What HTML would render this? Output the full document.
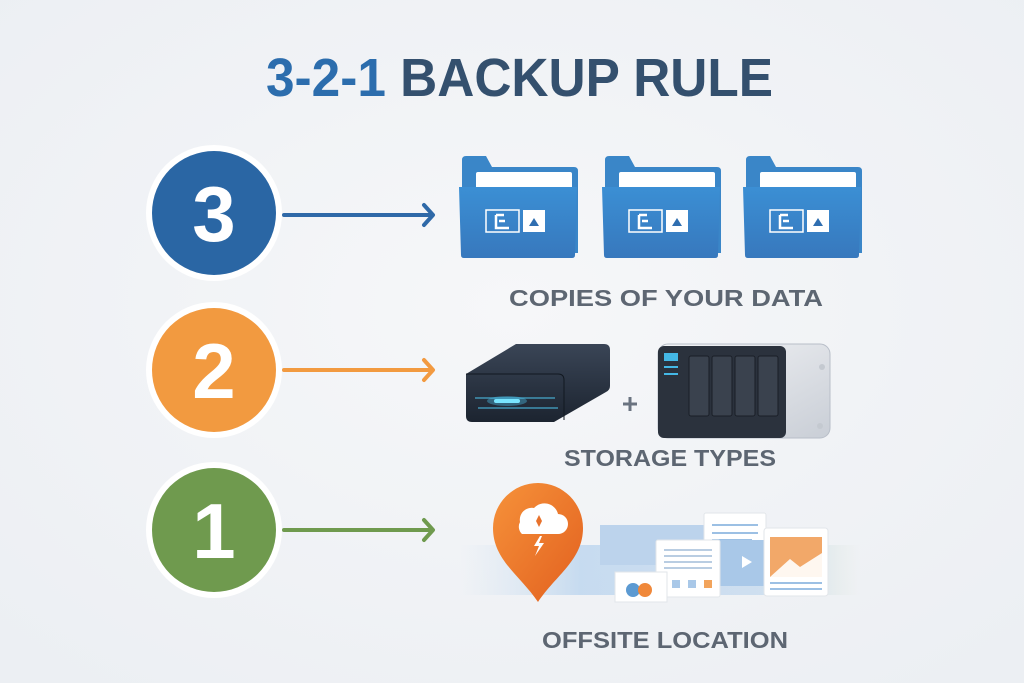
<!DOCTYPE html>
<html><head><meta charset="utf-8"><style>
html,body{margin:0;padding:0;background:#f1f3f6;}
svg{display:block;font-family:"Liberation Sans",sans-serif;}
</style></head><body>
<svg width="1024" height="683" viewBox="0 0 1024 683" xmlns="http://www.w3.org/2000/svg">
<defs>
<radialGradient id="bg" cx="50%" cy="45%" r="70%"><stop offset="0" stop-color="#f6f7f9"/><stop offset="1" stop-color="#eceff3"/></radialGradient>
<linearGradient id="fold" x1="0" y1="0" x2="0" y2="1"><stop offset="0" stop-color="#3b8fd4"/><stop offset="1" stop-color="#3778bd"/></linearGradient>
<linearGradient id="pin" x1="0" y1="0" x2="1" y2="1"><stop offset="0" stop-color="#f6923a"/><stop offset="1" stop-color="#e2601f"/></linearGradient>
<linearGradient id="dark" x1="0" y1="0" x2="0" y2="1"><stop offset="0" stop-color="#3a4556"/><stop offset="1" stop-color="#1c2430"/></linearGradient>
<linearGradient id="silver" x1="0" y1="0" x2="1" y2="1"><stop offset="0" stop-color="#f4f5f7"/><stop offset="1" stop-color="#c9ced6"/></linearGradient>
<linearGradient id="haze" x1="0" y1="0" x2="1" y2="0"><stop offset="0" stop-color="#cfe0f0" stop-opacity="0"/><stop offset="0.3" stop-color="#bcd5ee"/><stop offset="0.85" stop-color="#c9dcee"/><stop offset="1" stop-color="#dfe8d8" stop-opacity="0"/></linearGradient>
</defs>
<rect width="1024" height="683" fill="url(#bg)"/>
<text x="266" y="96" font-size="54" font-weight="bold" textLength="507" lengthAdjust="spacingAndGlyphs"><tspan fill="#2c6dad">3-2-1</tspan><tspan fill="#34506e"> BACKUP RULE</tspan></text>

<g font-weight="bold" fill="#fff" text-anchor="middle" font-size="78">
<circle cx="214" cy="213" r="68" fill="#fff"/><circle cx="214" cy="213" r="62" fill="#2a66a4"/>
<text x="214" y="241">3</text>
<circle cx="214" cy="370" r="68" fill="#fff"/><circle cx="214" cy="370" r="62" fill="#f29a40"/>
<text x="214" y="398">2</text>
<circle cx="214" cy="530" r="68" fill="#fff"/><circle cx="214" cy="530" r="62" fill="#6f9a4e"/>
<text x="214" y="558">1</text>
</g>
<g fill="none" stroke-width="4" stroke-linecap="round" stroke-linejoin="round">
<path d="M284 215H432M424 205l9 10-9 10" stroke="#2f69a8"/>
<path d="M284 370H432M424 360l9 10-9 10" stroke="#f29a40"/>
<path d="M284 530H432M424 520l9 10-9 10" stroke="#6f9a4e"/>
</g>

<g id="f">
<path d="M462 160 q0-4 4-4 h20 l6 11 h82 q4 0 4 4 v82 h-116z" fill="#3a86c8"/>
<rect x="476" y="172" width="96" height="30" rx="2" fill="#fff"/>
<path d="M459 187 h118 l-2 68 q0 3-3 3 h-108 q-3 0-3-3z" fill="url(#fold)"/>
<rect x="486" y="210" width="33" height="22" fill="none" stroke="#fff" stroke-width="1.5"/>
<path d="M496 215v13h13M499 221h6M496 215h8" stroke="#fff" stroke-width="2.5" fill="none"/>
<rect x="523" y="210" width="22" height="22" fill="#fff"/>
<path d="M529 226l5-8 5 8z" fill="#2f6eb0"/>
</g>
<use href="#f" x="143"/>
<use href="#f" x="284"/>
<text x="666" y="306" text-anchor="middle" font-size="23" font-weight="bold" fill="#5d6672" textLength="314" lengthAdjust="spacingAndGlyphs">COPIES OF YOUR DATA</text>

<path d="M466 374 l50-30 h88 q6 0 6 6 v36 q0 4-4 6 l-52 30 h-82 q-6 0-6-6z" fill="url(#dark)"/>
<path d="M466 374 h92 q6 0 6 6 v40" fill="none" stroke="#111820" stroke-width="1"/>
<path d="M475 398 h80 M478 408 h80" stroke="#4fc8f0" stroke-width="1.2" opacity=".8"/>
<rect x="494" y="399" width="26" height="4" rx="2" fill="#8ff0ff"/>
<ellipse cx="507" cy="401" rx="20" ry="5" fill="#4fd2ff" opacity=".35"/>
<path d="M623 404h14M630 397v14" stroke="#6a7380" stroke-width="3"/>
<rect x="658" y="344" width="172" height="94" rx="10" fill="url(#silver)" stroke="#b8bec8"/>
<rect x="658" y="346" width="128" height="92" rx="6" fill="#2b323d"/>
<rect x="664" y="353" width="14" height="8" fill="#44b8e6"/>
<path d="M664 367h14M664 374h14" stroke="#44b8e6" stroke-width="2"/>
<g fill="#3a424e" stroke="#1a1f27"><rect x="689" y="356" width="20" height="60" rx="2"/><rect x="712" y="356" width="20" height="60" rx="2"/><rect x="735" y="356" width="20" height="60" rx="2"/><rect x="758" y="356" width="20" height="60" rx="2"/></g>
<circle cx="822" cy="367" r="3" fill="#c4c9d0"/><circle cx="820" cy="426" r="3" fill="#c4c9d0"/>
<text x="670" y="466" text-anchor="middle" font-size="23" font-weight="bold" fill="#5d6672" textLength="212" lengthAdjust="spacingAndGlyphs">STORAGE TYPES</text>

<rect x="460" y="545" width="400" height="50" fill="url(#haze)" opacity=".8"/>
<rect x="600" y="525" width="120" height="40" fill="#bcd3ec"/>
<rect x="704" y="513" width="62" height="42" rx="2" fill="#fff" stroke="#e2e6ea"/>
<path d="M712 525h46M712 533h46M712 540h40" stroke="#9cc0e4" stroke-width="2"/>
<rect x="718" y="540" width="58" height="46" fill="#a9c8e8"/>
<path d="M742 556v12l10-6z" fill="#fff"/>
<rect x="656" y="540" width="64" height="57" rx="2" fill="#fff" stroke="#e2e6ea"/>
<path d="M664 550h48M664 556h48M664 562h48M664 568h48" stroke="#b9cde2" stroke-width="2"/>
<rect x="672" y="580" width="8" height="8" fill="#a9c8e8"/><rect x="688" y="580" width="8" height="8" fill="#a9c8e8"/><rect x="704" y="580" width="8" height="8" fill="#f2a45c"/>
<rect x="615" y="572" width="52" height="30" fill="#fff" stroke="#e2e6ea"/>
<circle cx="633" cy="590" r="7" fill="#5c9ad2"/><circle cx="645" cy="590" r="7" fill="#f0883a"/>
<rect x="764" y="528" width="64" height="68" rx="3" fill="#fff" stroke="#e2e6ea"/>
<rect x="770" y="537" width="52" height="40" fill="#f2a869"/>
<path d="M770 577l20-18 10 8 22-14v24z" fill="#fff" opacity=".9"/>
<path d="M770 583h52M770 589h52" stroke="#9cc0e4" stroke-width="2"/>
<path d="M538 602 C520 575 493 560 493 528 a45 45 0 0 1 90 0 C583 560 556 575 538 602z" fill="url(#pin)"/>
<path d="M520 522 a12 12 0 0 1 14-14 a14 14 0 0 1 24 6 a10 10 0 0 1 0 20 h-36 a10 10 0 0 1-2-12z" fill="#fff"/>
<path d="M539 515l3 6-3 6-3-6z" fill="#e8722c"/>
<path d="M540 536l-6 10h5l-4 10 9-13h-5l3-7z" fill="#fff"/>
<text x="665" y="648" text-anchor="middle" font-size="23" font-weight="bold" fill="#5d6672" textLength="246" lengthAdjust="spacingAndGlyphs">OFFSITE LOCATION</text>
</svg>
</body></html>
